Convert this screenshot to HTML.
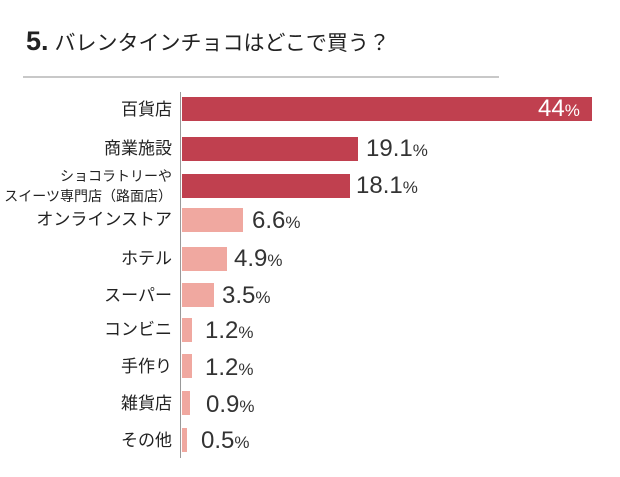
<!DOCTYPE html>
<html><head><meta charset="utf-8"><style>
body{margin:0;background:#fff;width:620px;height:477px;position:relative;overflow:hidden;font-family:"Liberation Sans","Noto Sans CJK JP",sans-serif;color:#222}
.t{position:absolute;left:26px;top:26px;font-size:21px;white-space:nowrap}
.t b{font-size:27px;font-weight:bold;margin-right:6px}
.hr{position:absolute;left:23px;top:76px;width:476px;height:2px;background:#c8c8c8}
.ax{position:absolute;left:180px;top:92px;width:1px;height:366px;background:#999}
.bar{position:absolute;left:182px;height:24px}
.d{background:#c0404f}.l{background:#f0a8a0}
.lb{position:absolute;right:448px;font-size:17px;text-align:right;white-space:nowrap;line-height:19px}
.v{position:absolute;font-size:24px;white-space:nowrap;color:#333}
.v small{font-size:17px}
</style></head><body>
<div class="t"><b>5.</b>バレンタインチョコはどこで買う？</div>
<div class="hr"></div>
<div class="ax"></div>

<div class="bar d" style="top:97px;width:410px"></div>
<div class="v" style="left:538px;top:95px;color:#fff">44<small>%</small></div>
<div class="lb" style="top:100px">百貨店</div>

<div class="bar d" style="top:137px;width:176px"></div>
<div class="v" style="left:366px;top:135px">19.1<small>%</small></div>
<div class="lb" style="top:139px">商業施設</div>

<div class="bar d" style="top:174px;width:168px"></div>
<div class="v" style="left:356px;top:172px">18.1<small>%</small></div>
<div class="lb" style="top:166px;font-size:14px;line-height:20px">ショコラトリーや<br>スイーツ専門店（路面店）</div>

<div class="bar l" style="top:208px;width:61px"></div>
<div class="v" style="left:252px;top:207px">6.6<small>%</small></div>
<div class="lb" style="top:210px">オンラインストア</div>

<div class="bar l" style="top:247px;width:45px"></div>
<div class="v" style="left:234px;top:245px">4.9<small>%</small></div>
<div class="lb" style="top:249px">ホテル</div>

<div class="bar l" style="top:283px;width:32px"></div>
<div class="v" style="left:222px;top:282px">3.5<small>%</small></div>
<div class="lb" style="top:286px">スーパー</div>

<div class="bar l" style="top:318px;width:10px"></div>
<div class="v" style="left:205px;top:317px">1.2<small>%</small></div>
<div class="lb" style="top:320px">コンビニ</div>

<div class="bar l" style="top:354px;width:10px"></div>
<div class="v" style="left:205px;top:354px">1.2<small>%</small></div>
<div class="lb" style="top:357px">手作り</div>

<div class="bar l" style="top:391px;width:8px"></div>
<div class="v" style="left:206px;top:391px">0.9<small>%</small></div>
<div class="lb" style="top:394px">雑貨店</div>

<div class="bar l" style="top:428px;width:5px"></div>
<div class="v" style="left:201px;top:427px">0.5<small>%</small></div>
<div class="lb" style="top:431px">その他</div>
</body></html>
